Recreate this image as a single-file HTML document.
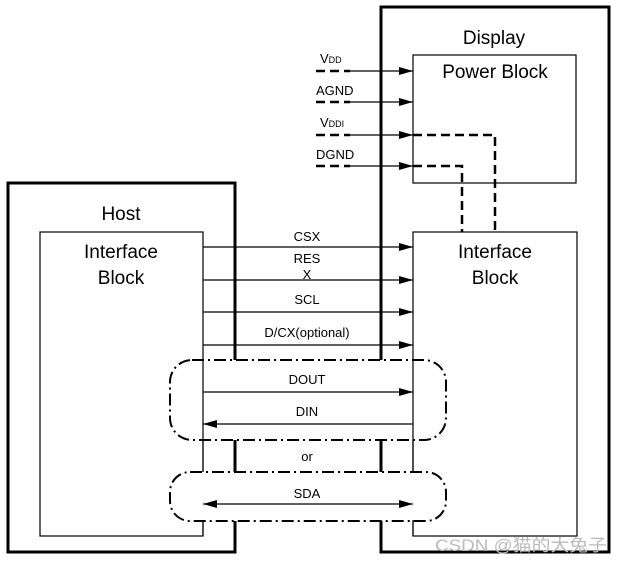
<!DOCTYPE html><html><head><style>body{margin:0;background:#fff}svg{display:block}text{font-family:"Liberation Sans","Noto Sans CJK SC",sans-serif;fill:#000}</style></head><body>
<svg width="620" height="563" viewBox="0 0 620 563" xmlns="http://www.w3.org/2000/svg">
<defs><marker id="a" markerWidth="14" markerHeight="8" refX="14" refY="4" orient="auto" markerUnits="userSpaceOnUse"><path d="M0,0L14,4L0,8z" fill="#000"/></marker>
<marker id="b" markerWidth="14" markerHeight="8" refX="0" refY="4" orient="auto" markerUnits="userSpaceOnUse"><path d="M14,0L0,4L14,8z" fill="#000"/></marker></defs>
<g fill="none" stroke="#000">
<rect x="8" y="183" width="227" height="369" stroke-width="3"/>
<rect x="381" y="7" width="228" height="545" stroke-width="3"/>
<rect x="40" y="232" width="163" height="304" stroke-width="1.2"/>
<rect x="413" y="232" width="164" height="304" stroke-width="1.2"/>
<rect x="413" y="55" width="163" height="128" stroke-width="1.2"/>
<g stroke-width="2.5" stroke-dasharray="9,5"><path d="M316 71H350M316 102H350M316 135H350M316 166H350"/>
<path d="M413 135H495V232M413 166H462V232"/></g>
<g stroke-width="1.3" marker-end="url(#a)"><path d="M350 71H413"/><path d="M350 102H413"/><path d="M350 135H413"/><path d="M350 166H413"/>
<path d="M203 247H413"/><path d="M203 280H413"/><path d="M203 312H413"/><path d="M203 345H413"/></g>
<rect x="170" y="360" width="276" height="80" rx="22" fill="#fff" stroke-width="2" stroke-dasharray="12,4,2,4"/>
<rect x="170" y="472" width="276" height="49" rx="20" fill="#fff" stroke-width="2" stroke-dasharray="12,4,2,4"/>
<path d="M203 360V472M413 360V472" stroke-width="1.2"/>
<path d="M203 520V536M413 520V536" stroke-width="1.2"/>
<g stroke-width="1.3"><path d="M203 392H413" marker-end="url(#a)"/><path d="M413 424H203" marker-end="url(#a)"/><path d="M203 504H413" marker-start="url(#b)" marker-end="url(#a)"/></g>
</g>
<g font-size="13" text-anchor="middle">
<text x="307" y="241">CSX</text><text x="307" y="263">RES</text><text x="307" y="279">X</text><text x="307" y="304">SCL</text><text x="307" y="337">D/CX(optional)</text>
<text x="307" y="384">DOUT</text><text x="307" y="416">DIN</text><text x="307" y="461">or</text><text x="307" y="498">SDA</text>
</g>
<g font-size="13"><text x="320" y="63">V<tspan font-size="9">DD</tspan></text><text x="316" y="95">AGND</text><text x="320" y="127">V<tspan font-size="9">DDI</tspan></text><text x="316" y="159">DGND</text></g>
<g font-size="19" text-anchor="middle"><text x="494" y="44">Display</text><text x="495" y="78">Power Block</text><text x="121" y="220">Host</text>
<text x="121" y="258">Interface</text><text x="121" y="284">Block</text><text x="495" y="258">Interface</text><text x="495" y="284">Block</text></g>
<text x="435" y="551" font-size="17" textLength="172" lengthAdjust="spacingAndGlyphs" style="fill:#bbb">CSDN @猫的大兔子</text>
</svg></body></html>
